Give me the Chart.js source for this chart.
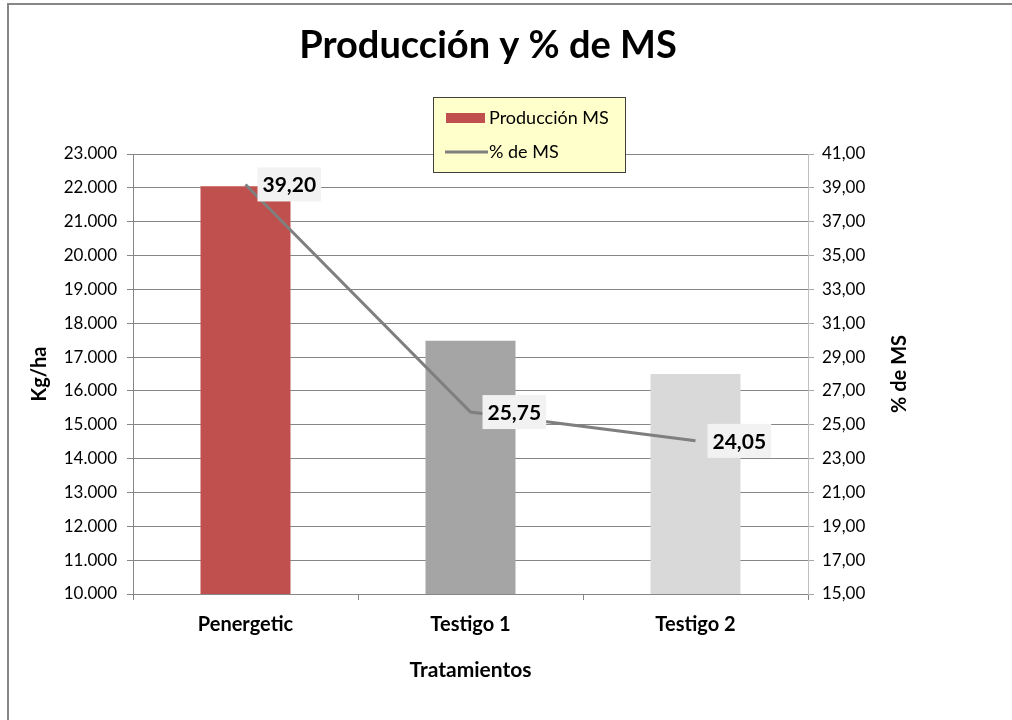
<!DOCTYPE html>
<html>
<head>
<meta charset="utf-8">
<script src="https://cdn.jsdelivr.net/npm/chart.js@4/dist/chart.umd.min.js"></script>
<style>
  html, body { margin: 0; padding: 0; background: #fff; overflow: hidden; }
  #wrap { width: 1012px; height: 720px; }
  canvas { display: block; background: #fff; }
</style>
</head>
<body>
<div id="wrap"><canvas id="grafico" width="1012" height="720"></canvas></div>
<script>
// Datos del grafico
const categorias = ['Penergetic', 'Testigo 1', 'Testigo 2'];
const produccionMS = [22050, 17480, 16500];
const porcentajeMS = [39.20, 25.75, 24.05];
const coloresBarras = ['#C0504D', '#A5A5A5', '#D9D9D9'];
const etiquetasSeries = ['Producción MS', '% de MS'];

const FUENTE = 'Lato, "Open Sans", sans-serif';
const GRIS = '#868686';

const miles = v => String(v).replace(/\B(?=(\d{3})+(?!\d))/g, '.');
const decimal = v => Number(v).toFixed(2).replace('.', ',');

// Borde exterior, etiquetas de datos, leyenda y titulo del eje derecho
const extras = {
    id: 'extras',
    beforeDraw(chart) {
        const ctx = chart.ctx;
        ctx.save();
        ctx.strokeStyle = GRIS;
        ctx.lineWidth = 2;
        ctx.beginPath();
        ctx.moveTo(8, 720);
        ctx.lineTo(8, 4);
        ctx.lineTo(1012, 4);
        ctx.stroke();
        ctx.restore();
    },
    afterDatasetsDraw(chart) {
        const ctx = chart.ctx;
        const meta = chart.getDatasetMeta(1);
        ctx.save();
        ctx.font = 'bold 21px ' + FUENTE;
        ctx.textBaseline = 'middle';
        meta.data.forEach((p, i) => {
            const txt = decimal(chart.data.datasets[1].data[i]);
            const w = ctx.measureText(txt).width + 10;
            const x = p.x + 12;
            ctx.fillStyle = '#F2F2F2';
            ctx.fillRect(x, p.y - 17, w, 34);
            ctx.fillStyle = '#000';
            ctx.fillText(txt, x + 5, p.y + 1);
        });
        ctx.restore();
    },
    afterDraw(chart) {
        const ctx = chart.ctx;
        ctx.save();
        // leyenda
        ctx.fillStyle = '#FFFFCC';
        ctx.fillRect(433, 97, 192, 75);
        ctx.strokeStyle = '#404040';
        ctx.lineWidth = 1;
        ctx.strokeRect(433.5, 97.5, 192, 75);
        ctx.fillStyle = coloresBarras[0];
        ctx.fillRect(446, 113, 39, 10);
        ctx.strokeStyle = '#7F7F7F';
        ctx.lineWidth = 3;
        ctx.beginPath();
        ctx.moveTo(445, 152);
        ctx.lineTo(488, 152);
        ctx.stroke();
        ctx.fillStyle = '#000';
        ctx.font = '18px ' + FUENTE;
        ctx.textBaseline = 'middle';
        ctx.fillText(etiquetasSeries[0], 489, 118);
        ctx.fillText(etiquetasSeries[1], 489, 152);
        // titulo eje secundario
        ctx.translate(900, 374);
        ctx.rotate(-Math.PI / 2);
        ctx.font = 'bold 20px ' + FUENTE;
        ctx.textAlign = 'center';
        ctx.fillText('% de MS', 0, 0);
        ctx.restore();
    }
};

new Chart(document.getElementById('grafico'), {
    data: {
        labels: categorias,
        datasets: [{
            type: 'bar',
            label: etiquetasSeries[0],
            data: produccionMS,
            backgroundColor: coloresBarras,
            barPercentage: 0.4,
            categoryPercentage: 1,
            yAxisID: 'y',
            order: 2
        }, {
            type: 'line',
            label: etiquetasSeries[1],
            data: porcentajeMS,
            borderColor: '#7F7F7F',
            borderWidth: 3,
            pointRadius: 0,
            tension: 0,
            yAxisID: 'y1',
            order: 1
        }]
    },
    options: {
        responsive: false,
        animation: false,
        layout: { padding: { left: 8, right: 44, top: 10, bottom: 20 } },
        plugins: {
            legend: { display: false },
            tooltip: { enabled: false },
            title: {
                display: true,
                text: 'Producción y % de MS',
                color: '#000',
                font: { family: FUENTE, size: 38, weight: 'bold' },
                padding: { top: 13, bottom: 85.4 }
            }
        },
        scales: {
            x: {
                offset: true,
                grid: { display: true, drawOnChartArea: false, tickLength: 6, color: GRIS },
                border: { color: GRIS },
                ticks: { color: '#000', padding: 13, font: { family: FUENTE, size: 20, weight: 'bold' } },
                title: {
                    display: true, text: 'Tratamientos', color: '#000',
                    font: { family: FUENTE, size: 21, weight: 'bold' },
                    padding: { bottom: 17 }
                },
                afterFit: s => { s.height = 106; }
            },
            y: {
                position: 'left',
                min: 10000, max: 23000,
                grid: { color: GRIS, tickLength: 6 },
                border: { color: GRIS },
                ticks: { stepSize: 1000, color: '#000', padding: 10, callback: miles, font: { family: FUENTE, size: 17 } },
                title: {
                    display: true, text: 'Kg/ha', color: '#000',
                    font: { family: FUENTE, size: 20, weight: 'bold' },
                    padding: { top: 20 }
                },
                afterFit: s => { s.width = 125; }
            },
            y1: {
                position: 'right',
                min: 15, max: 41,
                grid: { drawOnChartArea: false, color: '#A6A6A6', tickLength: 6 },
                border: { color: '#BFBFBF' },
                ticks: { stepSize: 2, color: '#000', padding: 8, callback: decimal, font: { family: FUENTE, size: 17 } },
                afterFit: s => { s.width = 160; }
            }
        }
    },
    plugins: [extras]
});
</script>
</body>
</html>
